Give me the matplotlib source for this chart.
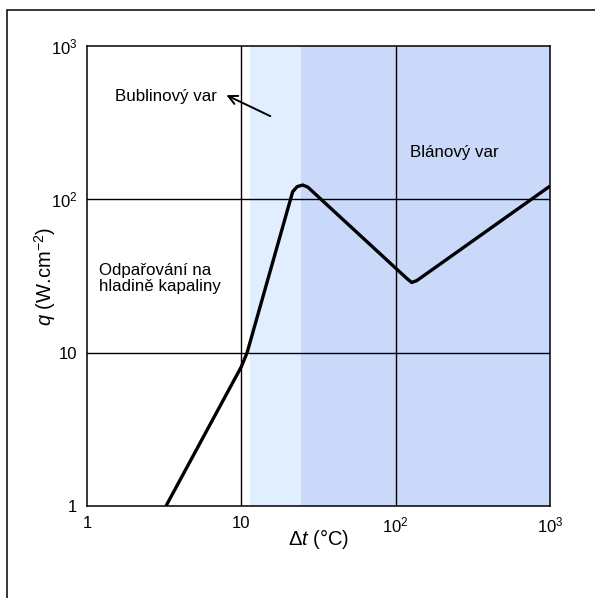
import matplotlib
matplotlib.use("Agg")
import matplotlib.pyplot as plt
from matplotlib.patches import Rectangle

plt.rcParams['font.family'] = ['Liberation Sans', 'DejaVu Sans']
plt.rcParams['mathtext.fontset'] = 'custom'
plt.rcParams['mathtext.rm'] = 'Liberation Sans'
plt.rcParams['mathtext.it'] = 'Liberation Sans:italic'
plt.rcParams['mathtext.sf'] = 'Liberation Sans'

# boiling curve (temperature difference vs heat flux)
dt = [3.25, 10.0, 10.9, 21.5, 23.0, 25.0, 27.0, 118, 127, 137, 1000]
q = [1.0, 8.1, 10.0, 112, 121, 124, 120, 30.5, 28.7, 29.5, 122]

# regions
nucleate_from, film_from, x_max = 11.3, 24.2, 1000

x_ticks = [1, 10, 100, 1000]
x_labels = ['1', '10', '10$^2$', '10$^3$']
y_ticks = [1, 10, 100, 1000]
y_labels = ['1', '10', '10$^2$', '10$^3$']

fig = plt.figure(figsize=(5.95, 5.98), dpi=100)
ax = fig.add_axes([87/595, 1-506/598, 463/595, 460/598])

# outer frame of the picture
fig.patches.append(Rectangle((7/595, -0.2), 1.2, 1 - 10/598 + 0.2,
                             transform=fig.transFigure, fill=False,
                             edgecolor='black', lw=1.1))

ax.set_xscale('log')
ax.set_yscale('log')
ax.set_xlim(1, 1000)
ax.set_ylim(1, 1000)

ax.axvspan(nucleate_from, film_from, color='#e1eeff', lw=0, zorder=0)
ax.axvspan(film_from, x_max, color='#cad8fa', lw=0, zorder=0)

for v in [10, 100]:
    ax.axvline(v, color='black', lw=1.0, zorder=1)
    ax.axhline(v, color='black', lw=1.0, zorder=1)

ax.plot(dt, q, color='black', lw=2.4, solid_joinstyle='round',
        solid_capstyle='butt', zorder=3)

ax.set_xticks(x_ticks)
ax.set_xticklabels(x_labels)
ax.set_yticks(y_ticks)
ax.set_yticklabels(y_labels)
ax.minorticks_off()
ax.tick_params(length=0, labelsize=12, pad=7)
for s in ax.spines.values():
    s.set_linewidth(1.1)

ax.set_xlabel(r'$\Delta$$\it{t}$ (°C)', fontsize=14.5, labelpad=-6)
ax.set_ylabel(r'$\it{q}$ (W.cm$^{-2}$)', fontsize=14.5, labelpad=-5)

ax.annotate('', xy=(8.0, 478), xytext=(15.4, 349),
            arrowprops=dict(arrowstyle='->', lw=1.4, color='black',
                            shrinkA=0, shrinkB=0, mutation_scale=16))
ax.text(1.52, 471, 'Bublinový var', fontsize=12.2, va='center', ha='left')

ax.text(123, 203, 'Blánový var', fontsize=12.2, va='center', ha='left')
ax.text(1.2, 30.5, 'Odpařování na\nhladině kapaliny', fontsize=12.2,
        va='center', ha='left', linespacing=1.15)

fig.savefig('out.png', dpi=100)
